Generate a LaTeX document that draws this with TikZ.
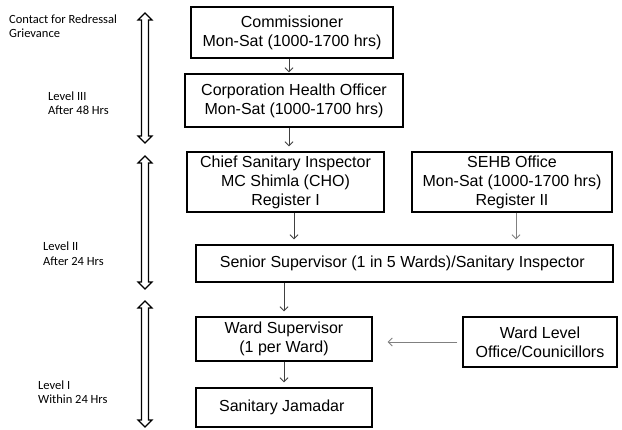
\documentclass[tikz,border=0pt]{standalone}
\usepackage{fontspec}
\setmainfont{Liberation Sans}
\newfontfamily\lvlfont{Carlito}
\usetikzlibrary{positioning, arrows.meta}

% outlined up-down arrow on the left: x, top, bottom
\newcommand\levelarrow[3]{%
  \draw[updown] (#1,#2) -- ++(7,7) -- ++(-3.5,0) -- ({#1+3.5},{#3-7})
    -- ++(3.5,0) -- (#1,#3) -- ++(-7,-7) -- ++(3.5,0)
    -- ({#1-3.5},{#2+7}) -- ++(-3.5,0) -- cycle;}

\begin{document}
\begin{tikzpicture}[
  x=1pt, y=-1pt,
  align=center,
  font=\fontsize{16}{19}\selectfont,
  box/.style={draw=black, rectangle, line width=1.3pt, inner sep=0pt, fill=white},
  arr/.style ={draw=black!75, line width=0.9pt, -{Straight Barb[length=4pt, width=8pt]}, shorten >=5pt},
  garr/.style={arr, draw=black!50},
  lvl/.style={anchor=west, align=left, inner sep=0pt, font=\lvlfont\fontsize{12.5}{14.4}\selectfont},
  updown/.style={draw=black, line width=1.2pt, fill=white, line join=miter},
]

\useasboundingbox (0,0) rectangle (622,429);

\def\xArr{145}

%% ====================================================================
%%  LEVEL ARROWS AND LABELS
%% ====================================================================
\levelarrow{\xArr}{13}{143}
\levelarrow{\xArr}{156}{289}
\levelarrow{\xArr}{301}{427}

\node[lvl] (contact)  at (9,26.5)   {Contact for Redressal\\Grievance};
\node[lvl] (lvlthree) at (48,103.5) {Level III\\After 48 Hrs};
\node[lvl] (lvltwo)   at (43,253.7) {Level II\\After 24 Hrs};
\node[lvl] (lvlone)   at (38,392.5) {Level I\\Within 24 Hrs};

%% ====================================================================
%%  LEVEL III
%% ====================================================================
\node[box, minimum width=202pt, minimum height=51pt] (comm) at (292,32.5) {
  Commissioner\\Mon-Sat (1000-1700 hrs)
};

\node[box, minimum width=218pt, minimum height=53pt] (cho) at (294,100.5) {
  Corporation Health Officer\\Mon-Sat (1000-1700 hrs)
};

\draw[arr, shorten >=1pt] ([xshift=-3pt]comm.south) -- ([xshift=-3pt]comm.south |- cho.north);

%% ====================================================================
%%  LEVEL II
%% ====================================================================
\node[box, minimum width=197pt, minimum height=60pt] (csi) at (285.5,182) {
  Chief Sanitary Inspector\\MC Shimla (CHO)\\Register I
};

\node[box, minimum width=200pt, minimum height=60pt] (sehb) at (512,182) {
  SEHB Office\\Mon-Sat (1000-1700 hrs)\\Register II
};

\node[box, minimum width=417pt, minimum height=37pt] (senior) at (404.5,263.5) {
  Senior Supervisor (1 in 5 Wards)/Sanitary Inspector
};

\draw[arr]  ([xshift=-5pt]cho.south) -- ([xshift=-5pt]cho.south |- csi.north);
\draw[arr]  ([xshift=8.5pt]csi.south) -- ([xshift=8.5pt]csi.south |- senior.north);
\draw[garr] ([xshift=4pt]sehb.south) -- ([xshift=4pt]sehb.south |- senior.north);

%% ====================================================================
%%  LEVEL I
%% ====================================================================
\node[box, minimum width=176pt, minimum height=44pt] (wardsup) at (284,339) {
  Ward Supervisor\\(1 per Ward)
};

\node[box, minimum width=176pt, minimum height=39pt] (jamadar) at (284,407.5) {
  Sanitary Jamadar
};

\node[box, minimum width=154pt, minimum height=50pt] (wardlvl) at (540,342) {
  Ward Level\\Office/Counicillors
};

\draw[arr]  (wardsup.north |- senior.south) -- (wardsup.north);
\draw[arr]  (wardsup.south) -- (jamadar.north);
\draw[garr, shorten <=5pt, shorten >=15pt] (wardlvl.west) -- (wardlvl.west -| wardsup.east);

\end{tikzpicture}
\end{document}
